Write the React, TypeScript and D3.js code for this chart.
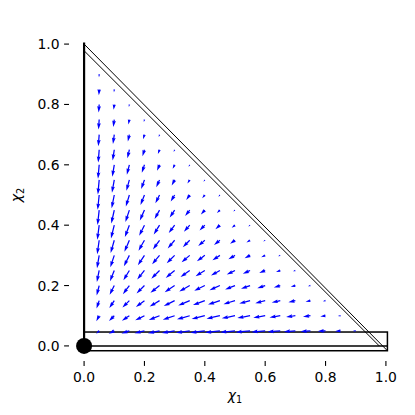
import * as d3 from 'd3';

// grid of the vector field (x1, x2), only points inside the simplex
const colX = [0.05, 0.1, 0.15, 0.2, 0.25, 0.3, 0.35, 0.4, 0.45, 0.5, 0.55, 0.6, 0.65, 0.7, 0.75, 0.8, 0.85, 0.9];
const rowY = [0.05, 0.1, 0.15, 0.2, 0.25, 0.3, 0.35, 0.4, 0.45, 0.5, 0.55, 0.6, 0.65, 0.7, 0.75, 0.8, 0.85, 0.9];

// dx1 per row (row i starts at colX[0])
const uRows = [
  [-0.045, -0.085, -0.12, -0.15, -0.175, -0.195, -0.21, -0.22, -0.225, -0.225, -0.22, -0.21, -0.195, -0.175, -0.15, -0.12, -0.085, -0.045],
  [-0.043, -0.08, -0.113, -0.14, -0.163, -0.18, -0.193, -0.2, -0.203, -0.2, -0.193, -0.18, -0.163, -0.14, -0.113, -0.08, -0.043],
  [-0.04, -0.075, -0.105, -0.13, -0.15, -0.165, -0.175, -0.18, -0.18, -0.175, -0.165, -0.15, -0.13, -0.105, -0.075, -0.04],
  [-0.038, -0.07, -0.098, -0.12, -0.138, -0.15, -0.158, -0.16, -0.158, -0.15, -0.138, -0.12, -0.098, -0.07, -0.038],
  [-0.035, -0.065, -0.09, -0.11, -0.125, -0.135, -0.14, -0.14, -0.135, -0.125, -0.11, -0.09, -0.065, -0.035],
  [-0.033, -0.06, -0.083, -0.1, -0.113, -0.12, -0.123, -0.12, -0.113, -0.1, -0.083, -0.06, -0.033],
  [-0.03, -0.055, -0.075, -0.09, -0.1, -0.105, -0.105, -0.1, -0.09, -0.075, -0.055, -0.03],
  [-0.028, -0.05, -0.068, -0.08, -0.088, -0.09, -0.088, -0.08, -0.068, -0.05, -0.028],
  [-0.025, -0.045, -0.06, -0.07, -0.075, -0.075, -0.07, -0.06, -0.045, -0.025],
  [-0.023, -0.04, -0.053, -0.06, -0.063, -0.06, -0.053, -0.04, -0.023],
  [-0.02, -0.035, -0.045, -0.05, -0.05, -0.045, -0.035, -0.02],
  [-0.018, -0.03, -0.038, -0.04, -0.038, -0.03, -0.018],
  [-0.015, -0.025, -0.03, -0.03, -0.025, -0.015],
  [-0.013, -0.02, -0.023, -0.02, -0.013],
  [-0.01, -0.015, -0.015, -0.01],
  [-0.008, -0.01, -0.008],
  [-0.005, -0.005],
  [-0.003],
];

// dx2 per row
const vRows = [
  [-0.045, -0.043, -0.04, -0.038, -0.035, -0.033, -0.03, -0.028, -0.025, -0.023, -0.02, -0.018, -0.015, -0.013, -0.01, -0.008, -0.005, -0.003],
  [-0.085, -0.08, -0.075, -0.07, -0.065, -0.06, -0.055, -0.05, -0.045, -0.04, -0.035, -0.03, -0.025, -0.02, -0.015, -0.01, -0.005],
  [-0.12, -0.113, -0.105, -0.098, -0.09, -0.083, -0.075, -0.068, -0.06, -0.053, -0.045, -0.038, -0.03, -0.023, -0.015, -0.008],
  [-0.15, -0.14, -0.13, -0.12, -0.11, -0.1, -0.09, -0.08, -0.07, -0.06, -0.05, -0.04, -0.03, -0.02, -0.01],
  [-0.175, -0.163, -0.15, -0.138, -0.125, -0.113, -0.1, -0.088, -0.075, -0.063, -0.05, -0.038, -0.025, -0.013],
  [-0.195, -0.18, -0.165, -0.15, -0.135, -0.12, -0.105, -0.09, -0.075, -0.06, -0.045, -0.03, -0.015],
  [-0.21, -0.193, -0.175, -0.158, -0.14, -0.123, -0.105, -0.088, -0.07, -0.053, -0.035, -0.018],
  [-0.22, -0.2, -0.18, -0.16, -0.14, -0.12, -0.1, -0.08, -0.06, -0.04, -0.02],
  [-0.225, -0.203, -0.18, -0.158, -0.135, -0.113, -0.09, -0.068, -0.045, -0.023],
  [-0.225, -0.2, -0.175, -0.15, -0.125, -0.1, -0.075, -0.05, -0.025],
  [-0.22, -0.193, -0.165, -0.138, -0.11, -0.083, -0.055, -0.028],
  [-0.21, -0.18, -0.15, -0.12, -0.09, -0.06, -0.03],
  [-0.195, -0.163, -0.13, -0.098, -0.065, -0.033],
  [-0.175, -0.14, -0.105, -0.07, -0.035],
  [-0.15, -0.113, -0.075, -0.038],
  [-0.12, -0.08, -0.04],
  [-0.09, -0.045],
  [-0.045],
];

const xTicks = [0, 0.2, 0.4, 0.6, 0.8, 1.0];
const yTicks = [0, 0.2, 0.4, 0.6, 0.8, 1.0];

// boundary shapes
const diagOuter: [number, number][] = [[0, 1.0], [1.005, -0.016]];
const diagInner: [number, number][] = [[0, 0.978], [0.978, 0]];
const edgeLeft: [number, number][] = [[0, 0], [0, 1.005]];
const stripX = [0, 1.005];
const stripY = [-0.016, 0.046];

const FONT = 'DejaVu Sans';
const blue = '#0000ff';

// matplotlib-like quiver arrow (pivot tail)
function arrowPath(x0: number, y0: number, dx: number, dy: number, w: number) {
  const lenPx = Math.hypot(dx, dy);
  const L = lenPx / w;
  const HL = 5, HAL = 4.5, minsh = 5;
  let X: number[], Y: number[];
  if (L < minsh) {
    const s = L / minsh;
    X = [0, 0.5, 0, 5, 0, 0.5, 0, 0].map(t => t * s);
    Y = [0.5, 0.5, 1.5, 0, -1.5, -0.5, -0.5, 0.5].map(t => t * s);
  } else {
    X = [0, L - HAL, L - HL, L, L - HL, L - HAL, 0, 0];
    Y = [0.5, 0.5, 1.5, 0, -1.5, -0.5, -0.5, 0.5];
  }
  const c = dx / lenPx, s = dy / lenPx;
  const pts = X.map((xx, i) => [x0 + w * (xx * c - Y[i] * s), y0 + w * (xx * s + Y[i] * c)] as [number, number]);
  return d3.line()(pts) + 'Z';
}

export default function App() {
  const x = d3.scaleLinear().domain([-0.05, 1.05]).range([69, 401]);
  const y = d3.scaleLinear().domain([-0.05, 1.05]).range([361, 29]);
  const fmt = d3.format('.1f');
  const pxPerUnit = 66;
  const shaftW = 1.25;

  const line = d3.line<[number, number]>().x(d => x(d[0])).y(d => y(d[1]));

  const arrows: string[] = [];
  rowY.forEach((yy, r) => {
    uRows[r].forEach((u, c) => {
      const v = vRows[r][c];
      arrows.push(arrowPath(x(colX[c]), y(yy), u * pxPerUnit, -v * pxPerUnit, shaftW));
    });
  });

  return (
    <svg width={415} height={415} style={{ position: 'absolute', left: 0, top: 0, background: '#fff' }}>
      {/* boundary */}
      <rect x={x(stripX[0])} y={y(stripY[1])} width={x(stripX[1]) - x(stripX[0])} height={y(stripY[0]) - y(stripY[1])}
        fill="none" stroke="#000" strokeWidth={1.5} />
      <line x1={x(stripX[0])} x2={x(stripX[1])} y1={y(0)} y2={y(0)} stroke="#000" strokeWidth={1.5} />
      <path d={line(diagOuter) ?? ''} stroke="#000" strokeWidth={1} fill="none" />
      <path d={line(diagInner) ?? ''} stroke="#000" strokeWidth={1} fill="none" />
      <path d={line(edgeLeft) ?? ''} stroke="#000" strokeWidth={2.2} fill="none" />

      {/* arrows */}
      <g fill={blue}>
        {arrows.map((d, i) => <path key={i} d={d} />)}
      </g>

      <circle cx={x(0)} cy={y(0)} r={8} fill="#000" />

      {/* axes ticks and labels */}
      <g fontFamily={FONT} fontSize={13.9} fill="#000">
        {xTicks.map(t => (
          <g key={'x' + t}>
            <line x1={x(t)} x2={x(t)} y1={361} y2={365.9} stroke="#000" strokeWidth={1.1} />
            <text x={x(t)} y={382} textAnchor="middle">{fmt(t)}</text>
          </g>
        ))}
        {yTicks.map(t => (
          <g key={'y' + t}>
            <line x1={64.1} x2={69} y1={y(t)} y2={y(t)} stroke="#000" strokeWidth={1.1} />
            <text x={59.5} y={y(t) + 5} textAnchor="end">{fmt(t)}</text>
          </g>
        ))}
        <text x={235} y={400} textAnchor="middle">
          <tspan fontStyle="italic">χ</tspan>
          <tspan fontSize={9.7} dy={2.5}>1</tspan>
        </text>
        <text transform={`translate(21,195) rotate(-90)`} textAnchor="middle">
          <tspan fontStyle="italic">χ</tspan>
          <tspan fontSize={9.7} dy={2.5}>2</tspan>
        </text>
      </g>
    </svg>
  );
}
